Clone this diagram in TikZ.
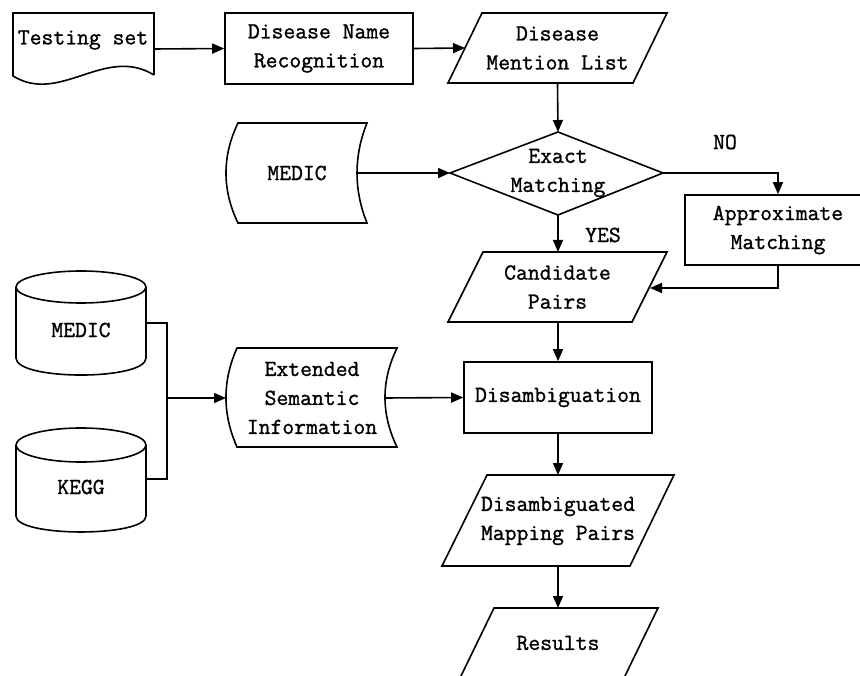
\documentclass[tikz,border=0pt]{standalone}
\usepackage{fontspec}
\newfontfamily\diagmono[FakeBold=1.2]{Latin Modern Mono}
\usetikzlibrary{arrows.meta}
\begin{document}
\begin{tikzpicture}[x=1pt,y=-1pt,
  ln/.style={line width=1.6pt, line join=miter},
  arr/.style={ln, -{Triangle[length=12pt,width=10pt]}},
  txt/.style={font=\diagmono\fontsize{23}{29}\selectfont, align=center, inner sep=0pt},
  procbox/.style={ln, draw, txt, minimum width=188pt, minimum height=71pt}]
\useasboundingbox (0,0) rectangle (860,676);
\clip (0,0) rectangle (860,676);
\fill[white] (0,0) rectangle (860,676);

% Testing set (document)
\draw[ln] (154,75) -- (154,13) -- (13,13) -- (13,76)
  .. controls (60,105) and (105,45) .. (154,75);
\node[txt] (ts) at (83,40) {Testing set};
\coordinate (tsR) at (154,49);

% Disease Name Recognition
\node[procbox] (dnr) at (319,48.5) {Disease Name\\Recognition};

% Disease Mention List (parallelogram)
\draw[ln] (482,13) -- (667,13) -- (633,83) -- (448,83) -- cycle;
\node[txt] (dml) at (557.5,48) {Disease\\Mention List};
\coordinate (dmlL) at (465,48);
\coordinate (dmlB) at (557.5,83);

% MEDIC stored data
\draw[ln] (238,123) -- (367,123) .. controls (353.7,156) and (353.7,190) .. (367,223)
  -- (238,223) .. controls (222,190) and (222,156) .. (238,123) -- cycle;
\node[txt] (med) at (297,173) {MEDIC};
\coordinate (medR) at (357,173);

% Exact Matching diamond
\draw[ln] (558,132) -- (663,173) -- (558,215) -- (450,173) -- cycle;
\node[txt] (em) at (558,173) {Exact\\Matching};
\coordinate (emT) at (558,132);
\coordinate (emL) at (450,173);
\coordinate (emR) at (663,173);
\coordinate (emB) at (558,215);

\node[txt] (no) at (725,142) {NO};
\node[txt] (yes) at (603,235) {YES};

% Approximate Matching
\node[procbox, minimum width=186pt, minimum height=70pt] (am) at (778,230) {Approximate\\Matching};

% Candidate Pairs
\draw[ln] (483,252) -- (667,252) -- (632,322) -- (448,322) -- cycle;
\node[txt] (cp) at (557.5,287) {Candidate\\Pairs};
\coordinate (cpT) at (558,252);
\coordinate (cpR) at (650,288);
\coordinate (cpB) at (558,322);

% Cylinders
\draw[ln] (81,287) ellipse [x radius=65, y radius=16];
\draw[ln] (16,287) -- (16,358) .. controls (16,380.7) and (146,380.7) .. (146,358) -- (146,287);
\node[txt] (medc) at (81,330) {MEDIC};
\coordinate (medcR) at (146,323);

\draw[ln] (81,445) ellipse [x radius=65, y radius=17];
\draw[ln] (16,445) -- (16,516) .. controls (16,537.3) and (146,537.3) .. (146,516) -- (146,445);
\node[txt] (kegg) at (81,487) {KEGG};
\coordinate (keggR) at (146,479);

\coordinate (jn) at (167,398);

% Extended Semantic Information
\draw[ln] (237,348) -- (397,348) .. controls (381,381) and (381,414) .. (397,447)
  -- (237,447) .. controls (222.3,414) and (222.3,381) .. (237,348) -- cycle;
\node[txt] (esi) at (312,398) {Extended\\Semantic\\Information};
\coordinate (esiL) at (226,398);
\coordinate (esiR) at (385,398);

% Disambiguation
\node[procbox] (dis) at (558,397.5) {Disambiguation};

% Disambiguated Mapping Pairs
\draw[ln] (487,475) -- (674,475) -- (630,566) -- (442,566) -- cycle;
\node[txt] (dmp) at (558,521) {Disambiguated\\Mapping Pairs};
\coordinate (dmpT) at (558,475);
\coordinate (dmpB) at (558,566);

% Results
\draw[ln] (494,608) -- (658,608) -- (624,678) -- (460,678) -- cycle;
\node[txt] (res) at (558,643) {Results};
\coordinate (resT) at (558,608);

% Connectors
\draw[arr] (tsR) -- (dnr.west);
\draw[arr] (dnr.east) -- (dmlL);
\draw[arr] (dmlB) -- (emT);
\draw[arr] (medR) -- (emL);
\draw[arr] (emR) -| (am.north);
\draw[arr] (emB) -- (cpT);
\draw[arr] (am.south) |- (cpR);
\draw[arr] (cpB) -- (dis.north);
\draw[ln] (medcR) -| (jn);
\draw[ln] (keggR) -| (jn);
\draw[arr] (jn) -- (esiL);
\draw[arr] (esiR) -- (dis.west);
\draw[arr] (dis.south) -- (dmpT);
\draw[arr] (dmpB) -- (resT);
\end{tikzpicture}
\end{document}
